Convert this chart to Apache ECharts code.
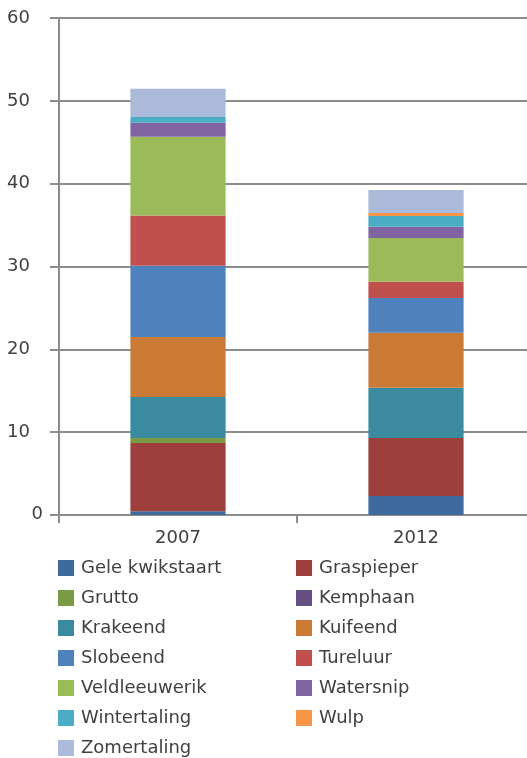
<!DOCTYPE html>
<html>
<head>
<meta charset="utf-8">
<script src="https://cdn.jsdelivr.net/npm/echarts@6/dist/echarts.min.js"></script>
<style>
  html, body { margin: 0; padding: 0; background: #fff; overflow: hidden; }
  /* het plotvlak loopt iets voorbij de rechterrand door */
  #chart { width: 535px; height: 758px; }
</style>
</head>
<body>
<div id="chart"></div>
<script>
// Jaartallen op de categorie-as
const years = ['2007', '2012'];

// Aantallen per soort (2007, 2012)
const geleKwikstaart = [0.45, 2.3];
const graspieper     = [8.25, 7.0];
const grutto         = [0.6, 0];
const kemphaan       = [0, 0];
const krakeend       = [4.95, 6.05];
const kuifeend       = [7.25, 6.65];
const slobeend       = [8.6, 4.2];
const tureluur       = [6.05, 1.95];
const veldleeuwerik  = [9.5, 5.3];
const watersnip      = [1.7, 1.35];
const wintertaling   = [0.7, 1.3];
const wulp           = [0, 0.35];
const zomertaling    = [3.4, 2.8];

// Schaalverdeling van de y-as
const yTicks = [0, 10, 20, 30, 40, 50, 60];

const species = [
  { name: 'Gele kwikstaart', data: geleKwikstaart, color: '#3f6a9d' },
  { name: 'Graspieper',      data: graspieper,     color: '#9d3f3d' },
  { name: 'Grutto',          data: grutto,         color: '#7a9a44' },
  { name: 'Kemphaan',        data: kemphaan,       color: '#654f83' },
  { name: 'Krakeend',        data: krakeend,       color: '#3a8ba0' },
  { name: 'Kuifeend',        data: kuifeend,       color: '#cb7a35' },
  { name: 'Slobeend',        data: slobeend,       color: '#4f81bd' },
  { name: 'Tureluur',        data: tureluur,       color: '#c0504d' },
  { name: 'Veldleeuwerik',   data: veldleeuwerik,  color: '#9bbb59' },
  { name: 'Watersnip',       data: watersnip,      color: '#8064a2' },
  { name: 'Wintertaling',    data: wintertaling,   color: '#4bacc6' },
  { name: 'Wulp',            data: wulp,           color: '#f79646' },
  { name: 'Zomertaling',     data: zomertaling,    color: '#aabad8' }
];

const FONT = 'DejaVu Sans';
const TEXT = '#404040';
const AXIS = '#8c8c8c';

const leftNames = species.filter((_, i) => i % 2 === 0).map(s => s.name);
const rightNames = species.filter((_, i) => i % 2 === 1).map(s => s.name);

const legendBase = {
  orient: 'vertical',
  top: 559,
  padding: 0,
  itemWidth: 16,
  itemHeight: 16,
  itemGap: 12,
  icon: 'rect',
  selectedMode: false,
  textStyle: { fontFamily: FONT, fontSize: 18, color: TEXT, padding: [0, 0, 0, 2] }
};

const chart = echarts.init(document.getElementById('chart'), null, { renderer: 'canvas' });
chart.setOption({
  animation: false,
  backgroundColor: '#ffffff',
  grid: { left: 59, right: 0, top: 18, bottom: 243, containLabel: false },
  legend: [
    Object.assign({}, legendBase, { left: 58, data: leftNames }),
    Object.assign({}, legendBase, { left: 296, data: rightNames })
  ],
  xAxis: {
    type: 'category',
    data: years,
    axisLine: { show: true, lineStyle: { color: AXIS, width: 2 } },
    axisTick: { show: true, length: 8, alignWithLabel: false, lineStyle: { color: AXIS, width: 2 } },
    axisLabel: { fontFamily: FONT, fontSize: 18, color: TEXT, margin: 14 }
  },
  yAxis: {
    type: 'value',
    min: yTicks[0],
    max: yTicks[yTicks.length - 1],
    interval: yTicks[1] - yTicks[0],
    axisLine: { show: true, lineStyle: { color: AXIS, width: 2 } },
    axisTick: { show: true, length: 9, lineStyle: { color: AXIS, width: 2 } },
    splitLine: { show: true, lineStyle: { color: AXIS, width: 2 } },
    axisLabel: {
      fontFamily: FONT, fontSize: 18, color: TEXT, margin: 16,
      // de nul staat dichter bij de as dan de overige getallen
      formatter: v => (v === 0 ? '{z|0}' : '{n|' + v + '}'),
      rich: {
        z: { fontFamily: FONT, fontSize: 18, color: TEXT, padding: [0, 0, 2, 0] },
        n: { fontFamily: FONT, fontSize: 18, color: TEXT, padding: [0, 13, 0, 0] }
      }
    }
  },
  series: species.map(s => ({
    name: s.name,
    type: 'bar',
    stack: 'total',
    barWidth: '40%',
    data: s.data,
    itemStyle: { color: s.color },
    emphasis: { disabled: true }
  }))
});
</script>
</body>
</html>
